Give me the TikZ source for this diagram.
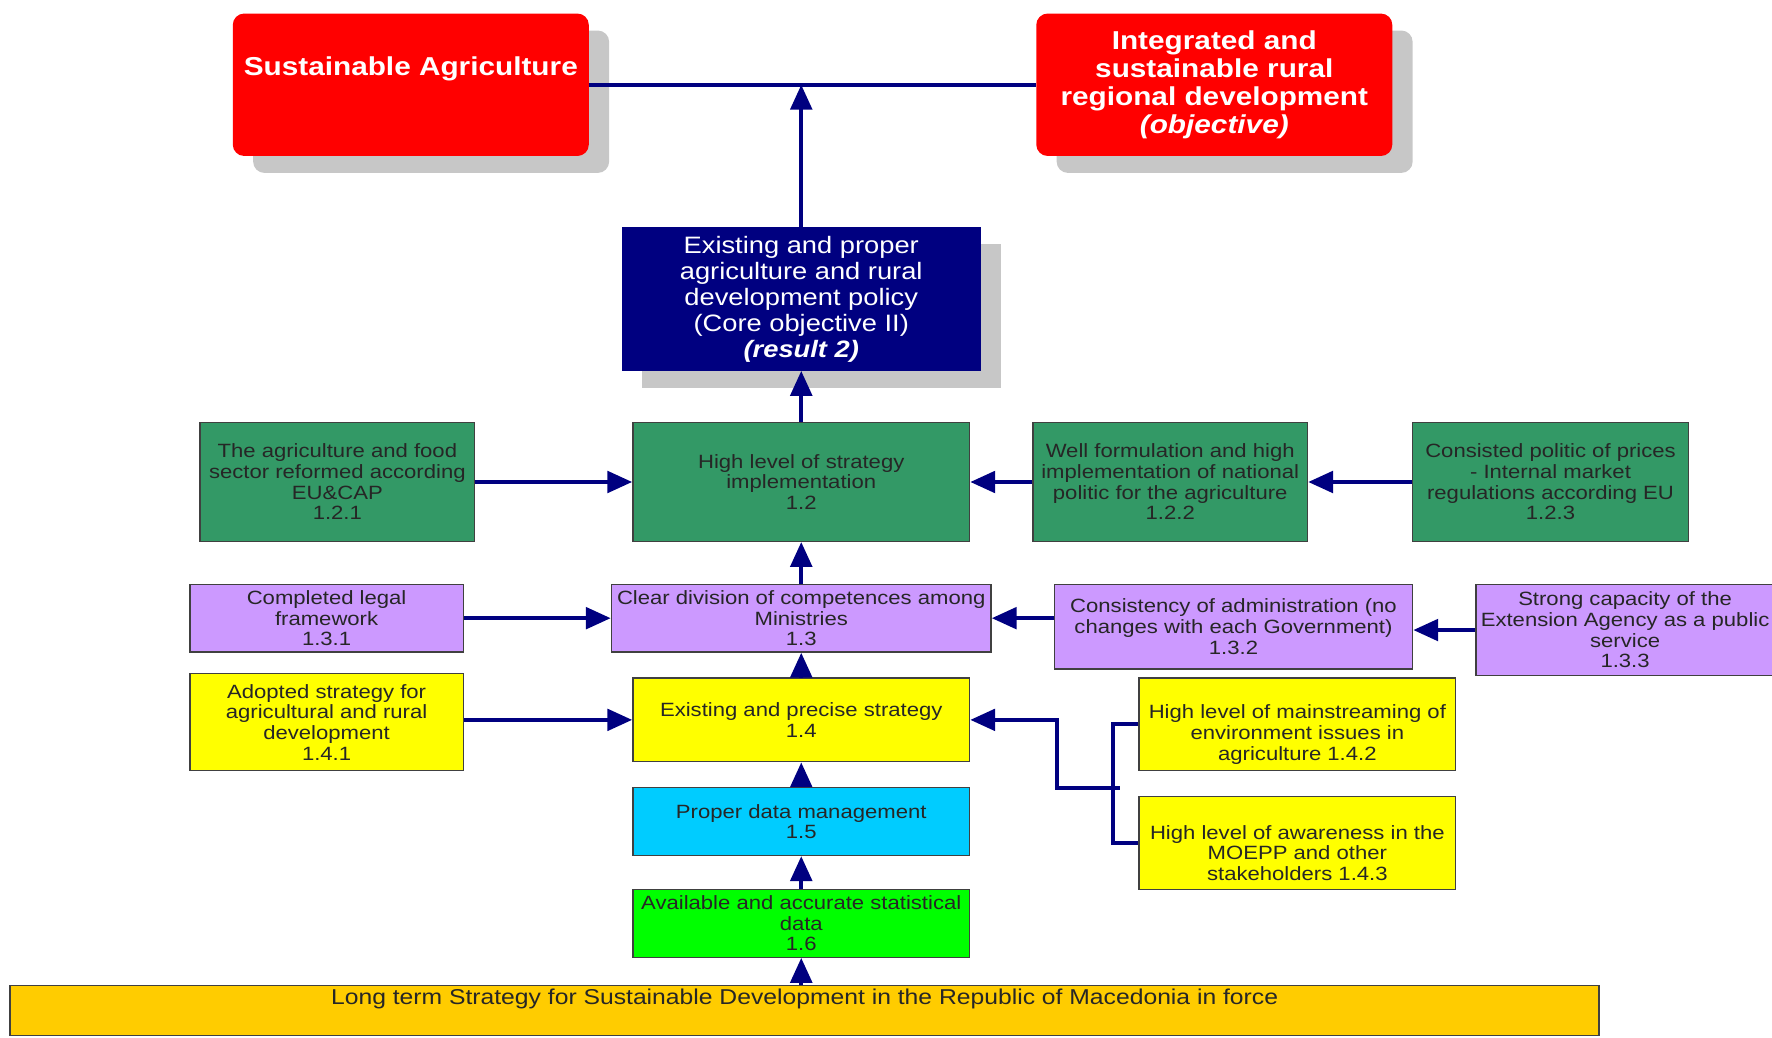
\documentclass[tikz,border=0pt]{standalone}
\usepackage{fontspec}
\setmainfont{Liberation Sans}[FakeStretch=1.15]
\usepackage{tikz}
\usetikzlibrary{positioning}
\usetikzlibrary{shapes,arrows,arrows.meta,shadows}
\definecolor{navy}{HTML}{000080}
\definecolor{goalred}{HTML}{FF0000}
\definecolor{implgreen}{HTML}{339966}
\definecolor{divpurple}{HTML}{CC99FF}
\definecolor{stratyellow}{HTML}{FFFF00}
\definecolor{datacyan}{HTML}{00CCFF}
\definecolor{statgreen}{HTML}{00FF00}
\definecolor{baseorange}{HTML}{FFCC00}
\newcommand{\smallfont}{\fontsize{17}{18.3}\selectfont}
\newcommand{\basefont}{\fontsize{19}{19}\selectfont}
\newcommand{\midfont}{\fontsize{21}{23}\selectfont}
\newcommand{\bigfont}{\fontsize{22.9}{25}\selectfont\bfseries}
\tikzstyle{goal} = [rectangle, fill=goalred, text=white, font=\bigfont, align=center,
    rounded corners=10pt, minimum width=315pt, minimum height=126pt, inner sep=0pt,
    drop shadow={shadow xshift=18pt, shadow yshift=-15pt, fill=black!22, opacity=1}]
\tikzstyle{result} = [rectangle, draw=navy, fill=navy, text=white, font=\midfont, align=center,
    minimum width=317pt, minimum height=127pt, inner sep=0pt,
    drop shadow={shadow xshift=18pt, shadow yshift=-15pt, fill=black!22, opacity=1}]
\tikzstyle{cell} = [rectangle, draw=black!75, line width=1.2pt, text=black!85, font=\smallfont,
    align=center, inner sep=0pt, minimum height=60pt]
\tikzstyle{implbox} = [cell, fill=implgreen, minimum height=105pt]
\tikzstyle{divbox} = [cell, fill=divpurple]
\tikzstyle{stratbox} = [cell, fill=stratyellow]
\tikzstyle{databox} = [cell, fill=datacyan]
\tikzstyle{statbox} = [cell, fill=statgreen]
\tikzstyle{basebox} = [cell, fill=baseorange, font=\basefont, minimum width=1406pt, minimum height=44pt]
\tikzstyle{link} = [line width=3.5pt, draw=navy]
\tikzstyle{arrow} = [line width=3.5pt, draw=navy, -{Triangle[length=22pt,width=19pt]}]
\begin{document}
\begin{tikzpicture}[x=1pt, y=1pt, node distance = 90pt]
\useasboundingbox (0,0) rectangle (1568,-918);

\node (impl) [implbox, minimum width=298pt] at (709,-426.5) {High level of strategy\\implementation\\1.2};
\node (res2) [result, node distance=162pt, above of=impl] {Existing and proper\\agriculture and rural\\development policy\\(Core objective II)\\\textbf{\textit{(result 2)}}};
\node (sagri) [goal, node distance=189.5pt, above of=res2, xshift=-345.5pt] {Sustainable Agriculture\\ \strut};
\node (rural) [goal, node distance=711pt, right of=sagri] {Integrated and\\sustainable rural\\regional development\\\textit{(objective)}};

\node (div) [divbox, minimum width=336pt, node distance=120.5pt, below of=impl] {Clear division of competences among\\Ministries\\1.3};
\node (strat) [stratbox, minimum width=298pt, minimum height=74pt, below of=div] {Existing and precise strategy\\1.4};
\node (data) [databox, minimum width=298pt, below of=strat] {Proper data management\\1.5};
\node (stat) [statbox, minimum width=298pt, below of=data] {Available and accurate statistical\\data\\1.6};
\node (base) [basebox, node distance=77pt, below of=stat, xshift=3pt] {Long term Strategy for Sustainable Development in the Republic of Macedonia in force\\ \strut};

\node (eucap) [implbox, minimum width=243pt, node distance=410.5pt, left of=impl] {The agriculture and food\\sector reformed according\\EU\&CAP\\1.2.1};
\node (natpol) [implbox, minimum width=243pt, node distance=326.5pt, right of=impl] {Well formulation and high\\implementation of national\\politic for the agriculture\\1.2.2};
\node (prices) [implbox, minimum width=244pt, node distance=336.5pt, right of=natpol] {Consisted politic of prices\\- Internal market\\regulations according EU\\1.2.3};

\node (legal) [divbox, minimum width=242pt, node distance=420pt, left of=div] {Completed legal\\framework\\1.3.1};
\node (admin) [divbox, minimum width=317pt, minimum height=75pt, node distance=382.5pt, right of=div, yshift=-7.5pt] {Consistency of administration (no\\changes with each Government)\\1.3.2};
\node (extag) [divbox, minimum width=264pt, minimum height=81pt, node distance=346.5pt, right of=admin, yshift=-3pt] {Strong capacity of the\\Extension Agency as a public\\service\\1.3.3};

\node (adopt) [stratbox, minimum width=242pt, minimum height=86pt, node distance=420pt, left of=strat, yshift=-2pt] {Adopted strategy for\\agricultural and rural\\development\\1.4.1};
\node (envir) [stratbox, minimum width=280pt, minimum height=82pt, node distance=439pt, right of=strat, yshift=-4pt] {\rule{0pt}{30pt}High level of mainstreaming of\\environment issues in\\agriculture 1.4.2};
\node (aware) [stratbox, minimum width=280pt, minimum height=82pt, node distance=105pt, below of=envir] {\rule{0pt}{30pt}High level of awareness in the\\MOEPP and other\\stakeholders 1.4.3};
\node[coordinate] (fork) [node distance=56pt, below of=envir, xshift=-163pt] {};
\node[coordinate] (bend) [node distance=50pt, left of=fork] {};

\draw [link] (sagri) -- (rural);
\draw [arrow] (res2) -- (res2 |- sagri);
\draw [arrow] (impl) -- (res2);
\draw [arrow] (eucap) -- (impl);
\draw [arrow] (natpol) -- (impl);
\draw [arrow] (prices) -- (natpol);
\draw [arrow] (div) -- (impl);
\draw [arrow] (legal) -- (div);
\draw [arrow] (admin.west |- div) -- (div);
\draw [arrow] (extag) -- (extag -| admin.east);
\draw [arrow] (strat) -- (div);
\draw [arrow] (adopt.east |- strat) -- (strat);
\draw [link] (envir.west) -| (fork) |- (aware.west);
\draw [arrow] ([xshift=6pt]fork) -- (bend) |- (strat);
\draw [arrow] (data) -- (strat);
\draw [arrow] (stat) -- (data);
\draw [arrow] (base.north -| stat) -- (stat);

\end{tikzpicture}
\end{document}
